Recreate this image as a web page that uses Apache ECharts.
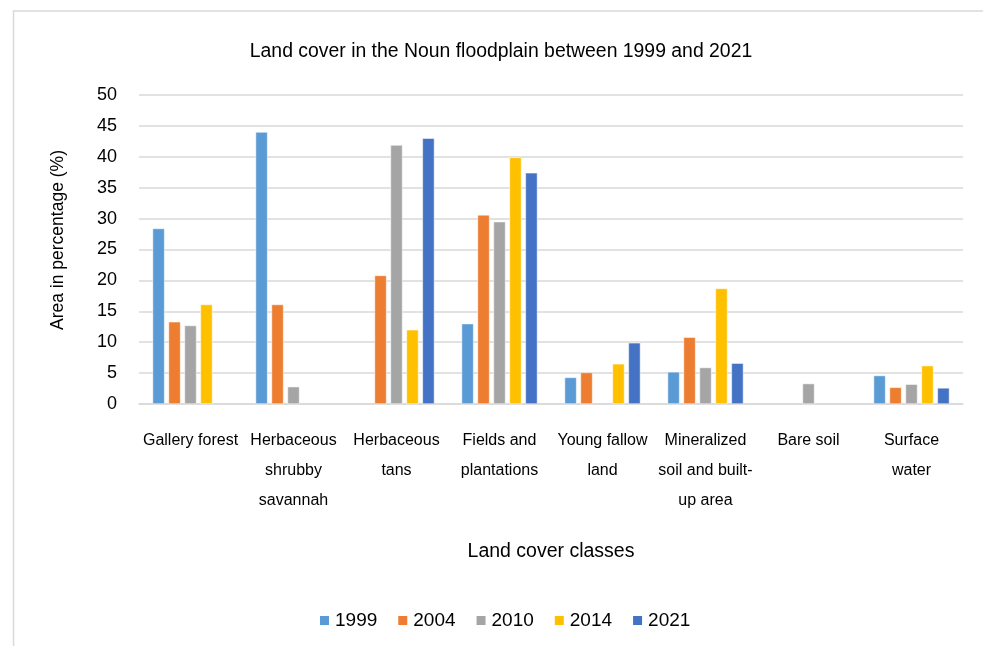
<!DOCTYPE html>
<html>
<head>
<meta charset="utf-8">
<script src="https://cdn.jsdelivr.net/npm/echarts@6/dist/echarts.min.js"></script>
<style>html,body{margin:0;padding:0;background:#fff;}#c{width:983px;height:646px;}</style>
</head>
<body>
<div id="c"></div>
<script>
const categories = ["Gallery forest", "Herbaceous\nshrubby\nsavannah", "Herbaceous\ntans", "Fields and\nplantations", "Young fallow\nland", "Mineralized\nsoil and built-\nup area", "Bare soil", "Surface\nwater"];
const years = ["1999", "2004", "2010", "2014", "2021"];
const v1999 = [28.4, 44.0, null, 13.0, 4.3, 5.2, null, 4.6];
const v2004 = [13.3, 16.1, 20.8, 30.6, 5.1, 10.8, null, 2.7];
const v2010 = [12.7, 2.8, 41.9, 29.5, null, 5.9, 3.3, 3.2];
const v2014 = [16.1, null, 12.0, 39.9, 6.5, 18.7, null, 6.2];
const v2021 = [null, null, 43.0, 37.4, 9.9, 6.6, null, 2.6];
const yTicks = [0, 5, 10, 15, 20, 25, 30, 35, 40, 45, 50];
const colors = ["#5B9BD5", "#ED7D31", "#A5A5A5", "#FFC000", "#4472C4"];
const seriesData = [v1999, v2004, v2010, v2014, v2021];

const font = "'Liberation Sans', Arial, sans-serif";
const chart = echarts.init(document.getElementById('c'), null, {renderer: 'canvas'});
chart.setOption({
  animation: false,
  color: colors,
  title: {
    text: "Land cover in the Noun floodplain between 1999 and 2021",
    left: 496, top: 37, textAlign: 'center',
    textStyle: {fontFamily: font, fontSize: 19.4, fontWeight: 'normal', color: '#000'}
  },
  graphic: [{
    type: 'rect', shape: {x: 13.5, y: 11, width: 1000, height: 700},
    style: {fill: 'none', stroke: '#d9d9d9', lineWidth: 1.5}, silent: true
  }, {
    type: 'text', x: 58, y: 240, rotation: Math.PI / 2,
    style: {text: "Area in percentage (%)", fontFamily: font, fontSize: 17.5, fill: '#000',
      textAlign: 'center', textVerticalAlign: 'middle'}
  }],
  legend: {
    data: years, bottom: 11, left: 313,
    itemWidth: 11, itemHeight: 11, itemGap: 19, icon: 'rect',
    textStyle: {fontFamily: font, fontSize: 19, color: '#000'}
  },
  grid: {left: 139, right: 20, top: 95, bottom: 242},
  xAxis: {
    type: 'category', data: categories,
    name: "Land cover classes", nameLocation: 'middle', nameGap: 138,
    nameTextStyle: {fontFamily: font, fontSize: 19.5, color: '#000'},
    axisLine: {show: true, lineStyle: {color: '#d9d9d9', width: 1.5}},
    axisTick: {show: false},
    axisLabel: {interval: 0, margin: 22, fontFamily: font, fontSize: 16, lineHeight: 30, color: '#000'}
  },
  yAxis: {
    type: 'value', min: 0, max: 50, interval: 5,
    axisLine: {show: false}, axisTick: {show: false},
    axisLabel: {margin: 22, fontFamily: font, fontSize: 18, color: '#000',
      formatter: function(v){ return yTicks.indexOf(v) >= 0 ? String(v) : ''; }},
    splitLine: {lineStyle: {color: '#d9d9d9', width: 1.5}}
  },
  series: years.map((y, i) => ({
    name: y, type: 'bar', data: seriesData[i],
    barWidth: 12, barGap: '33%',
    itemStyle: {color: colors[i], borderColor: '#fff', borderWidth: 0.5}
  }))
});
</script>
</body>
</html>
